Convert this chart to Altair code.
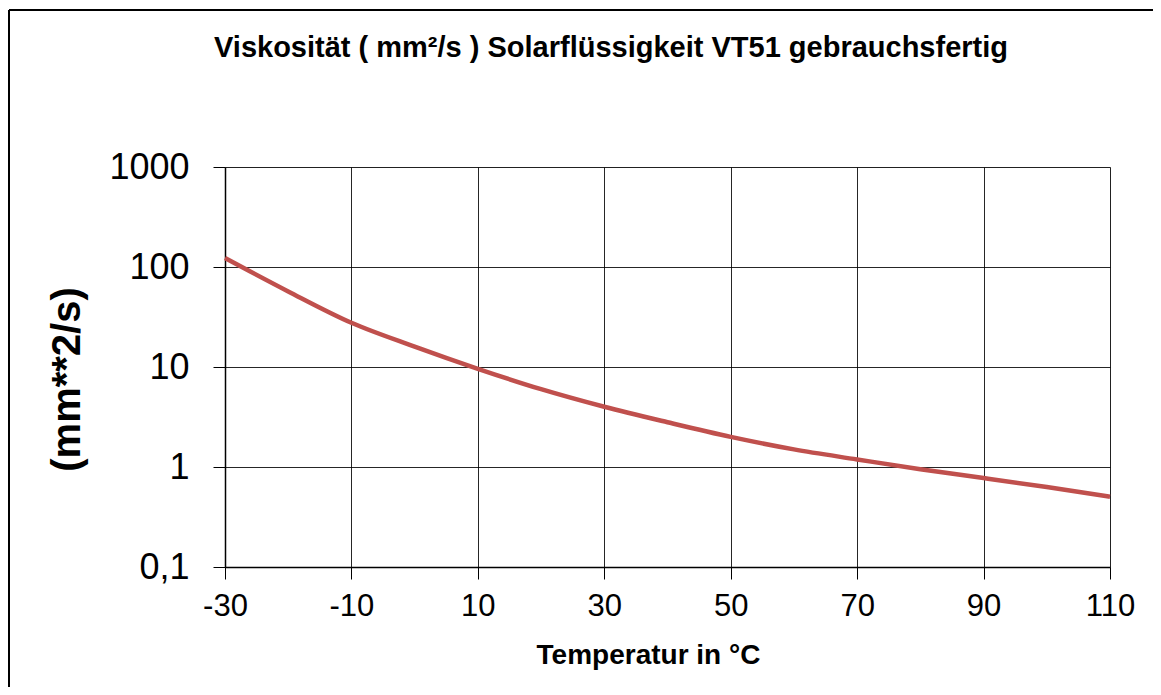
import altair as alt
import pandas as pd

temps = [-30, -20, -10, 0, 10, 20, 30, 40, 50, 60, 70, 80, 90, 100, 110]
viscosity = [123, 57, 27.7, 16, 9.6, 6.0, 4.0, 2.8, 2.0, 1.5, 1.19, 0.95, 0.776, 0.63, 0.505]

x_ticks = [-30, -10, 10, 30, 50, 70, 90, 110]
y_ticks = [0.1, 1, 10, 100, 1000]

title_text = "Viskosität ( mm²/s ) Solarflüssigkeit VT51 gebrauchsfertig"
x_title = "Temperatur in °C"
y_title = "(mm**2/s)"

FONT = "Liberation Sans"

df = pd.DataFrame({"t": temps, "v": viscosity})

line = alt.Chart(df).mark_line(color="#C0504D", strokeWidth=4.5, interpolate="monotone").encode(
    x=alt.X("t:Q",
            scale=alt.Scale(domain=[-30, 110], nice=False, zero=False),
            axis=alt.Axis(values=x_ticks, title=x_title,
                          labelExpr="datum.value + ''",
                          labelFont=FONT, labelFontSize=31, labelColor="#000",
                          labelPadding=12, tickSize=12, tickColor="#000",
                          domainColor="#000", domainWidth=1.5,
                          gridColor="#000", gridWidth=1, gridOpacity=0.85,
                          titleFont=FONT, titleFontSize=28, titleFontWeight="bold",
                          titleColor="#000", titleX=423, titleY=96,
                          titleAlign="center", titleBaseline="alphabetic",
                          labelFlush=False)),
    y=alt.Y("v:Q",
            scale=alt.Scale(type="log", domain=[0.1, 1000], nice=False),
            axis=alt.Axis(values=y_ticks, title=y_title,
                          labelExpr="datum.value < 0.5 ? '0,1' : format(datum.value, 'd')",
                          labelFont=FONT, labelFontSize=36, labelColor="#000",
                          labelPadding=24, tickSize=12, tickColor="#000",
                          domainColor="#000", domainWidth=1.5,
                          gridColor="#000", gridWidth=1, gridOpacity=0.85,
                          titleFont=FONT, titleFontSize=40, titleFontWeight="bold",
                          titleColor="#000", titleAngle=-90, titleX=-158, titleY=212,
                          titleAlign="center", titleBaseline="middle",
                          labelFlush=False)),
)

one = pd.DataFrame({"a": [0]})
top_rule = alt.Chart(one).mark_rule(color="#000", strokeWidth=2).encode(
    x=alt.value(-216), x2=alt.value(930), y=alt.value(-157)
)
left_rule = alt.Chart(one).mark_rule(color="#000", strokeWidth=2).encode(
    x=alt.value(-216), y=alt.value(-157), y2=alt.value(520)
)
title_mark = alt.Chart(one).mark_text(
    text=title_text, font=FONT, fontSize=29, fontWeight="bold", color="#000",
    align="center", baseline="alphabetic"
).encode(x=alt.value(386), y=alt.value(-110))

chart = alt.layer(line, top_rule, left_rule, title_mark).properties(
    width=885,
    height=400,
    autosize=alt.AutoSizeParams(type="none"),
    padding={"left": 217, "top": 159, "right": 43, "bottom": 120},
).configure_view(stroke="#888", strokeWidth=2).configure(background="white")

chart.save("out.html", embed_options={"renderer": "svg", "actions": False})
